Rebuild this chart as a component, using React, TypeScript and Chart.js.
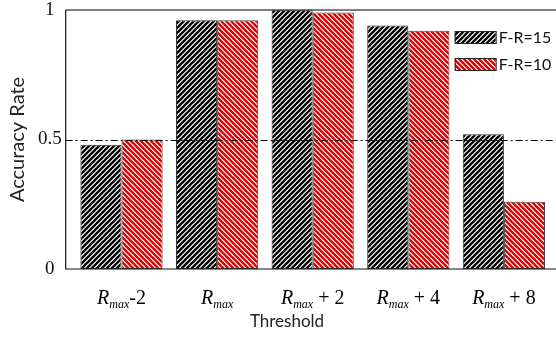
import React, { useEffect, useRef } from "react";
import { Chart, registerables } from "chart.js";

Chart.register(...registerables);

const categories = ["R_max-2", "R_max", "R_max + 2", "R_max + 4", "R_max + 8"];
const seriesFR15 = [0.48, 0.96, 1.0, 0.94, 0.52];
const seriesFR10 = [0.5, 0.96, 0.99, 0.92, 0.26];
const seriesLabels = ["F-R=15", "F-R=10"];
const yTicks = [0, 0.5, 1];
const referenceLevel = 0.5;
const xTitle = "Threshold";
const yTitle = "Accuracy Rate";

function makePattern(ctx: CanvasRenderingContext2D, color: string, dir: number, size: number, lw: number) {
  const c = document.createElement("canvas");
  c.width = size;
  c.height = size;
  const g = c.getContext("2d")!;
  g.fillStyle = "#ffffff";
  g.fillRect(0, 0, size, size);
  g.strokeStyle = color;
  g.lineWidth = lw;
  g.beginPath();
  for (const o of [-size, 0, size]) {
    if (dir > 0) {
      g.moveTo(o - 1, size + 1);
      g.lineTo(o + size + 1, -1);
    } else {
      g.moveTo(o - 1, -1);
      g.lineTo(o + size + 1, size + 1);
    }
  }
  g.stroke();
  return ctx.createPattern(c, "repeat")!;
}

const framePlugin = {
  id: "frameAndExtras",
  afterDatasetsDraw(chart: any) {
    const { ctx, chartArea, scales } = chart;
    const frameLeft = chartArea.left - 8;
    const right = chart.width;
    ctx.save();
    // dash-dot reference line
    const yRef = scales.y.getPixelForValue(referenceLevel);
    ctx.strokeStyle = "#000";
    ctx.lineWidth = 1;
    ctx.setLineDash([7, 3, 2, 3]);
    ctx.beginPath();
    ctx.moveTo(frameLeft, Math.round(yRef) + 0.5);
    ctx.lineTo(right, Math.round(yRef) + 0.5);
    ctx.stroke();
    ctx.setLineDash([]);
    // frame
    ctx.strokeStyle = "#555";
    ctx.lineWidth = 1.5;
    ctx.beginPath();
    ctx.moveTo(frameLeft, chartArea.top);
    ctx.lineTo(right, chartArea.top);
    ctx.stroke();
    ctx.strokeStyle = "#111";
    ctx.lineWidth = 1.2;
    ctx.beginPath();
    ctx.moveTo(frameLeft, chartArea.top);
    ctx.lineTo(frameLeft, chartArea.bottom);
    ctx.lineTo(right, chartArea.bottom);
    ctx.stroke();

    // legend
    chart.data.datasets.forEach((ds: any, i: number) => {
      const bx = chartArea.right - 97;
      const by = chartArea.top + 21 + i * 27;
      ctx.fillStyle = ds.backgroundColor;
      ctx.fillRect(bx, by, 41, 12);
      ctx.strokeStyle = "#222";
      ctx.lineWidth = 1;
      ctx.strokeRect(bx + 0.5, by + 0.5, 41, 12);
      ctx.fillStyle = "#111";
      ctx.font = "16px Lato";
      ctx.textBaseline = "middle";
      ctx.textAlign = "left";
      ctx.fillText(ds.label, bx + 44, by + 7);
    });

    // x tick labels: italic R with subscript "max"
    const baseY = chartArea.bottom + 35;
    categories.forEach((lab, i) => {
      const parts = lab.split("_max");
      const base = parts[0];
      const suffix = parts[1] || "";
      const cx = scales.x.getPixelForValue(i);
      ctx.font = "italic 20px 'Liberation Serif'";
      const wBase = ctx.measureText(base).width;
      ctx.font = "italic 12px 'Liberation Serif'";
      const wSub = ctx.measureText("max").width;
      ctx.font = "20px 'Liberation Serif'";
      const wSuf = ctx.measureText(suffix).width;
      let x = cx - (wBase + wSub + wSuf) / 2;
      ctx.fillStyle = "#000";
      ctx.textAlign = "left";
      ctx.textBaseline = "alphabetic";
      ctx.font = "italic 20px 'Liberation Serif'";
      ctx.fillText(base, x, baseY);
      x += wBase;
      ctx.font = "italic 12px 'Liberation Serif'";
      ctx.fillText("max", x, baseY + 4);
      x += wSub;
      ctx.font = "20px 'Liberation Serif'";
      ctx.fillText(suffix, x, baseY);
    });

    // x axis title
    ctx.fillStyle = "#222";
    ctx.font = "17px Lato";
    ctx.textAlign = "center";
    ctx.textBaseline = "middle";
    ctx.fillText(xTitle, chart.width / 2 + 9, chartArea.bottom + 53);
    ctx.restore();
  },
};

export default function App() {
  const ref = useRef<HTMLCanvasElement | null>(null);
  useEffect(() => {
    const canvas = ref.current!;
    const ctx = canvas.getContext("2d")!;
    const blackPat = makePattern(ctx, "#000000", 1, 5, 2.3);
    const redPat = makePattern(ctx, "#dd0000", -1, 5, 2.3);
    const chart = new Chart(canvas, {
      type: "bar",
      data: {
        labels: categories,
        datasets: [
          {
            label: seriesLabels[0],
            data: seriesFR15,
            backgroundColor: blackPat as any,
            borderColor: "#333",
            borderWidth: 1,
            borderSkipped: false,
          },
          {
            label: seriesLabels[1],
            data: seriesFR10,
            backgroundColor: redPat as any,
            borderColor: "#444",
            borderWidth: 1,
            borderSkipped: false,
          },
        ],
      },
      options: {
        responsive: false,
        animation: false,
        devicePixelRatio: 1,
        layout: { padding: { top: 10, right: 4.3, left: 0, bottom: 0 } },
        datasets: { bar: { categoryPercentage: 0.86, barPercentage: 1 } },
        plugins: { legend: { display: false }, tooltip: { enabled: false } },
        scales: {
          x: {
            type: "category",
            offset: true,
            grid: { display: false, drawTicks: false },
            border: { display: false },
            ticks: { display: false },
            afterFit: (s: any) => {
              s.height = 70;
              s.paddingLeft = 0;
              s.paddingRight = 0;
            },
          },
          y: {
            min: 0,
            max: 1,
            grid: { display: false, drawTicks: false },
            border: { display: false },
            afterBuildTicks: (s: any) => {
              s.ticks = yTicks.map((v) => ({ value: v }));
            },
            ticks: {
              color: "#111",
              padding: 12,
              crossAlign: "center",
              font: { family: "'Liberation Serif'", size: 19 },
              callback: (v: any) => String(v),
            },
            title: {
              display: true,
              text: yTitle,
              color: "#222",
              font: { family: "Lato", size: 20 },
              padding: { top: 6, bottom: 0 },
            },
            afterFit: (s: any) => {
              s.width = 73.7;
              s.paddingTop = 0;
              s.paddingBottom = 0;
            },
          },
        },
      },
      plugins: [framePlugin],
    });
    return () => chart.destroy();
  }, []);
  return (
    <div style={{ position: "fixed", left: 0, top: 0, width: 556, height: 339, background: "#fff" }}>
      <canvas ref={ref} width={556} height={339} />
    </div>
  );
}
